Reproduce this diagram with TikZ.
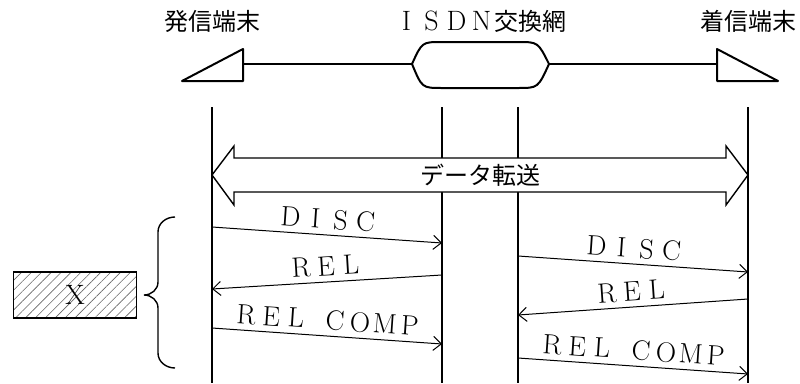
\documentclass[tikz,border=0pt]{standalone}
\usepackage{fontspec}
\newfontfamily\cjk{Noto Sans CJK JP}
\usetikzlibrary{arrows.meta, calc, patterns.meta}

% full-width cells for latin letters
\newcommand\latsize{\fontsize{28}{30}\selectfont}
\def\zen#1{\zenstep#1\zenstop}
\def\zenstep#1{\ifx#1\zenstop\else\makebox[25pt]{\latsize #1}\expandafter\zenstep\fi}
\def\zenstop{\relax}

\begin{document}
\begin{tikzpicture}[x=1pt, y=1pt,
  lane/.style = {line width=1.6pt},
  msg/.style = {line width=1pt, -{Straight Barb[length=8pt, width=14pt]}},
  lbl/.style = {sloped, above=2pt},
  unit/.style = {line width=2pt, line join=round},
  fat/.style = {line width=1.4pt, fill=white},
  xbox/.style = {draw, line width=1.5pt, minimum width=123pt, minimum height=46pt,
    pattern={Lines[angle=45, distance=7pt, line width=0.6pt]}, pattern color=black!60},
  brace/.style = {line width=1.4pt},
  every node/.style = {font=\fontsize{24}{28}\selectfont}
]
\useasboundingbox (0,0) rectangle (800,-383);

% Terminals and network
\node (srcname) at (212,-21) {\cjk 発信端末};
\node (netname) at (480,-21) {\zen{ISDN}{\cjk 交換網}};
\node (dstname) at (748,-21) {\cjk 着信端末};

\coordinate (tx) at (243,-64);
\coordinate (netW) at (412,-64);
\coordinate (netE) at (549,-64);
\coordinate (rx) at (717,-64);

\draw[unit] (182,-81) -- (243,-49) -- (243,-81) -- cycle;
\draw[unit] (717,-49) -- (717,-81) -- (778,-81) -- cycle;
\draw[unit] (442,-42) -- (518,-42) .. controls (538,-42) .. (netE)
  .. controls (538,-88) .. (518,-88) -- (442,-88)
  .. controls (422,-88) .. (netW) .. controls (422,-42) .. (442,-42) -- cycle;
\draw[line width=1.6pt] (tx) -- (netW);
\draw[line width=1.6pt] (netE) -- (rx);

% Lanes
\foreach \x/\n in {212/a, 442/b, 518/c, 748/d} {
  \coordinate (top-\n) at (\x,-107);
  \coordinate (bot-\n) at (\x,-383);
  \draw[lane] (top-\n) -- (bot-\n);
}

% Data transfer
\draw[fat] (212,-175) -- (234,-146) -- (234,-158) -- (726,-158) -- (726,-146)
  -- (748,-175) -- (726,-205) -- (726,-192) -- (234,-192) -- (234,-205) -- cycle;
\node (xfer) at (480,-175) {\cjk データ転送};

% Messages, terminal side
\draw[msg] ($(top-a)+(0,-120)$) -- node[lbl] {\zen{DISC}} ($(top-b)+(0,-136)$);
\draw[msg] ($(top-b)+(0,-168)$) -- node[lbl] {\zen{REL}} ($(top-a)+(0,-182)$);
\draw[msg] ($(top-a)+(0,-221)$) -- node[lbl] {\zen{REL}\hspace{14pt}\zen{COMP}} ($(top-b)+(0,-237)$);

% Messages, called side
\draw[msg] ($(top-c)+(0,-149)$) -- node[lbl] {\zen{DISC}} ($(top-d)+(0,-165)$);
\draw[msg] ($(top-d)+(0,-192)$) -- node[lbl] {\zen{REL}} ($(top-c)+(0,-208)$);
\draw[msg] ($(top-c)+(0,-251)$) -- node[lbl] {\zen{REL}\hspace{14pt}\zen{COMP}} ($(top-d)+(0,-267)$);

% Brace and X
\draw[brace] (175,-217) to[out=180, in=90] (158,-232) -- (158,-282)
  to[out=-90, in=0] (144,-295) to[out=0, in=90] (158,-308) -- (158,-353)
  to[out=-90, in=180] (175,-368);
\node[xbox] (xx) at (75,-295) {\latsize X};

\end{tikzpicture}
\end{document}
